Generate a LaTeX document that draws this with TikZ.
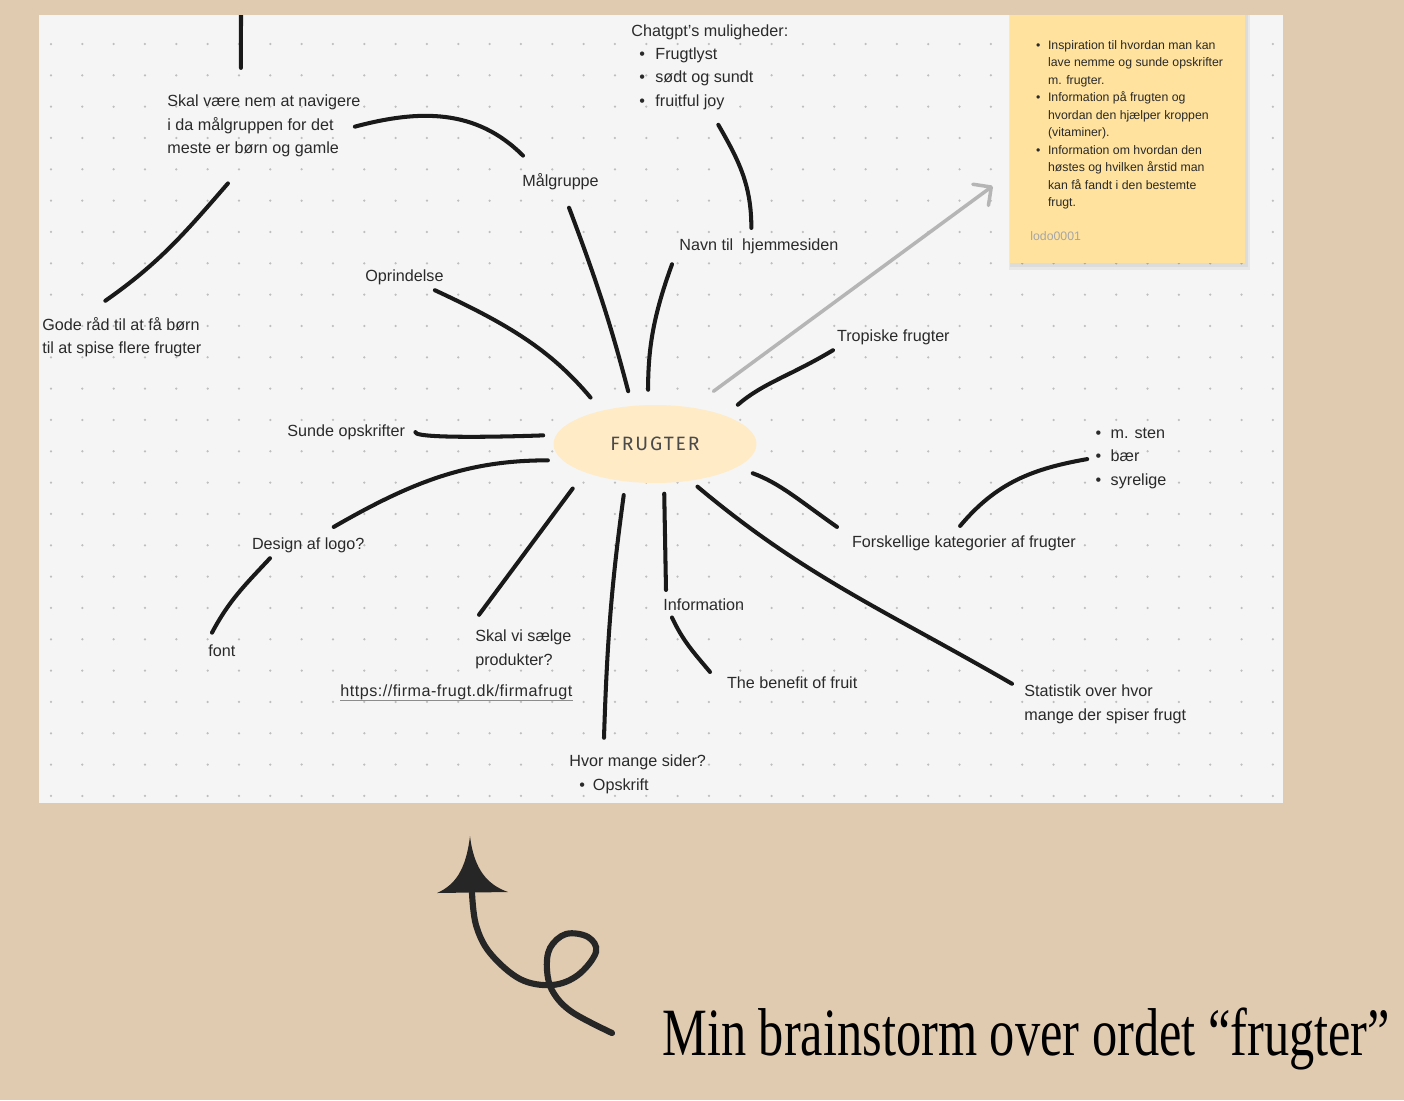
\documentclass[tikz,border=0pt]{standalone}
\usepackage{fontspec}
\usepackage{graphicx}
\setmainfont{Liberation Sans}
\newfontfamily\capfont{Liberation Serif}
\newfontfamily\handfont[LetterSpace=10]{Fira Sans}
\usetikzlibrary{shapes.geometric,arrows.meta}

\definecolor{paper}{HTML}{E0CBB1}
\definecolor{board}{HTML}{F5F5F5}
\definecolor{dotgray}{HTML}{BEBEBE}
\definecolor{ink}{HTML}{2A2A2A}
\definecolor{notey}{HTML}{FFE29D}
\definecolor{bubble}{HTML}{FFEBC6}
\definecolor{arrowgray}{HTML}{B5B5B5}

% multi-line nodes are placed at the baseline of their last line
\tikzset{
  idea/.style={font=\fontsize{9.2}{13.3}\selectfont, text=ink, inner sep=0pt, anchor=base west, align=left},
  notetext/.style={font=\fontsize{7}{9.9}\selectfont, text=ink, inner sep=0pt, anchor=base west, align=left},
  stroke/.style={line width=2.3pt, line cap=round, black!90},
  pointer/.style={draw=arrowgray, line width=2pt, line cap=round, -{Straight Barb[length=7.5pt,width=15pt,round]}},
  handpen/.style={line width=3.5pt, line cap=round, black!85},
  notebox/.style={fill=notey, minimum width=4.7cm, minimum height=4.96cm, inner sep=0pt},
  noteshade/.style={fill=black, opacity=0.05},
}

\begin{document}
\begin{tikzpicture}[x=0.02cm, y=-0.02cm]
  \useasboundingbox (0,0) rectangle (1404,1100);
  \fill[paper] (0,0) rectangle (1404,1100);
  \fill[board] (39,15) rectangle (1283,803);

  \begin{scope}
    \clip (39,15) rectangle (1283,803);
    % dot grid
    \foreach \i in {0,...,39}
      \foreach \j in {0,...,24}
        \fill[dotgray] (51+31.33*\i, 44+31.33*\j) circle[radius=0.025cm];

    % sticky note
    \coordinate (shadetl) at (1009,15);
    \coordinate (shadebr) at (1250,270);
    \fill[noteshade] (shadetl) rectangle (shadebr);
    \fill[noteshade] ([shift={(1,0)}]shadetl) rectangle ([shift={(-2,-3)}]shadebr);
    \node[notebox] (note) at (1127.5,139) {};
    \node[notetext] (dot1) at (1035.8,49) {•};
    \node[notetext] (tip1) at (1047.7,84) {Inspiration til hvordan man kan\\lave nemme og sunde opskrifter\\m. frugter.};
    \node[notetext] (dot2) at (1035.8,101.5) {•};
    \node[notetext] (tip2) at (1047.7,136.5) {Information på frugten og\\hvordan den hjælper kroppen\\(vitaminer).};
    \node[notetext] (dot3) at (1035.8,154) {•};
    \node[notetext] (tip3) at (1047.7,206.5) {Information om hvordan den\\høstes og hvilken årstid man\\kan få fandt i den bestemte\\frugt.};
    \node[notetext, text=black!35] (tag) at (1030,240) {lodo0001};

    % centre
    \node[ellipse, fill=bubble, minimum width=4.06cm, minimum height=1.56cm, inner sep=0pt] (frugter) at (655,444)
      {\handfont\fontsize{11}{12}\selectfont\color{ink!85}FRUGTER};

    % ideas
    \node[idea] (skal) at (167,153.7) {Skal være nem at navigere\\i da målgruppen for det\\meste er børn og gamle};
    \node[idea] (gode) at (42,353.5) {Gode råd til at få børn\\til at spise flere frugter};
    \node[idea] (opr) at (365,281) {Oprindelse};
    \node[idea] (malgruppe) at (522,186) {Målgruppe};
    \node[idea] (chat) at (631,106.1) {Chatgpt’s muligheder:\\\hspace*{0.158cm}•\hspace{0.21cm}Frugtlyst\\\hspace*{0.158cm}•\hspace{0.21cm}sødt og sundt\\\hspace*{0.158cm}•\hspace{0.21cm}fruitful joy};
    \node[idea] (navn) at (679,250) {Navn til\ \ hjemmesiden};
    \node[idea] (trop) at (836.7,341.7) {Tropiske frugter};
    \node[idea] (sunde) at (287,436) {Sunde opskrifter};
    \node[idea] (design) at (251.7,549) {Design af logo?};
    \node[idea] (fnt) at (208,656.7) {font};
    \node[idea] (salg) at (475,665.2) {Skal vi sælge\\produkter?};
    \node[idea] (url) at (340,696.7) {\addfontfeatures{LetterSpace=3}https://firma-frugt.dk/firmafrugt};
    \node[idea] (hvor) at (569,790.2) {Hvor mange sider?\\\hspace*{0.2cm}•\hspace{0.16cm}Opskrift};
    \node[idea] (info) at (663,610) {Information};
    \node[idea] (benefit) at (726.7,688) {The benefit of fruit};
    \node[idea] (stat) at (1024,720.2) {Statistik over hvor\\mange der spiser frugt};
    \node[idea] (kat) at (851.7,547) {Forskellige kategorier af frugter};
    \node[idea] (sorter) at (1095.2,485.3) {•\hspace{0.19cm}m. sten\\•\hspace{0.19cm}bær\\•\hspace{0.19cm}syrelige};

    \draw[black!45, line width=0.8pt] (url.south west) -- (url.south east);

    % strokes
    \coordinate (offtop) at (241,5);
    \draw[stroke] (offtop) -- ([shift={(-23,-27)}]skal.north);
    \draw[stroke] ([shift={(-6,0.5)}]skal.east) to[out=15,in=135] ([shift={(1,-17)}]malgruppe.north west);
    \draw[stroke] ([shift={(-36,26)}]skal.south) to[out=229,in=35] ([shift={(-16.5,-16)}]gode.north);
    \draw[stroke, shorten >=0.3cm] ([shift={(8.5,18)}]malgruppe.south) to[bend left=3] (frugter.121);
    \draw[stroke] ([shift={(8.5,15)}]chat.south) to[out=-60,in=90] ([shift={(-7.5,-10)}]navn.north);
    \draw[stroke, shorten >=0.3cm] ([shift={(-7,10.6)}]navn.south west) to[out=-110,in=90] (frugter.100);
    \draw[stroke, shorten >=0.34cm] ([shift={(-9,5.5)}]opr.south east) to[out=-25,in=130] (frugter.148);
    \draw[stroke, shorten >=0.33cm] ([shift={(-3.7,4.8)}]trop.south west) to[out=211,in=41] (frugter.22);
    \draw[stroke, shorten >=0.25cm] ([shift={(10,0.3)}]sunde.east) to[out=-100,in=180,looseness=0.15] (frugter.175);
    \draw[stroke, shorten >=0.29cm] ([shift={(-31,-10)}]design.north east) to[out=30,in=180] (frugter.190);
    \draw[stroke] ([shift={(18.3,5.5)}]design.south west) to[out=227,in=62] ([shift={(4,-12)}]fnt.north west);
    \draw[stroke, shorten >=0.4cm] ([shift={(4,-15)}]salg.north west) -- (frugter.202);
    \draw[stroke, shorten >=0.27cm] ([shift={(35,-17)}]hvor.north west) to[bend left=3] (frugter.232);
    \draw[stroke, shorten >=0.21cm] ([shift={(3,-8)}]info.north west) -- (frugter.283);
    \draw[stroke] ([shift={(9,7)}]info.south west) to[out=-65,in=130] ([shift={(-16.7,-4)}]benefit.north west);
    \draw[stroke, shorten <=0.18cm] (frugter.314) to[out=-40,in=150] ([shift={(-12,-1)}]stat.north west);
    \draw[stroke, shorten <=0.34cm] (frugter.344) to[out=-20,in=145] ([shift={(-14.7,-8)}]kat.north west);
    \draw[stroke] ([shift={(-3.8,-9)}]kat.north) to[out=50,in=190] ([shift={(-8,0.7)}]sorter.west);

    % arrow to the note
    \draw[pointer, shorten <=0.54cm] (frugter.45) -- ([shift={(-17,47)}]note.west);
  \end{scope}

  % hand drawn arrow
  \draw[handpen] plot[smooth, tension=0.6] coordinates {(472,893) (476,925) (490,953) (520,979) (552,985) (578,975) (596,952) (588,937) (566,934) (550,948) (547,970) (553,992) (572,1012) (612,1033)};
  \fill[black!85] (470,836) .. controls (466,870) and (455,885) .. (437,893) -- (508,892) .. controls (488,885) and (474,870) .. (470,836) -- cycle;

  \node[anchor=base west, inner sep=0pt] (caption) at (662,1055)
    {\scalebox{0.745}[1]{\capfont\fontsize{38.5}{40}\selectfont Min brainstorm over ordet “frugter”}};
\end{tikzpicture}
\end{document}
